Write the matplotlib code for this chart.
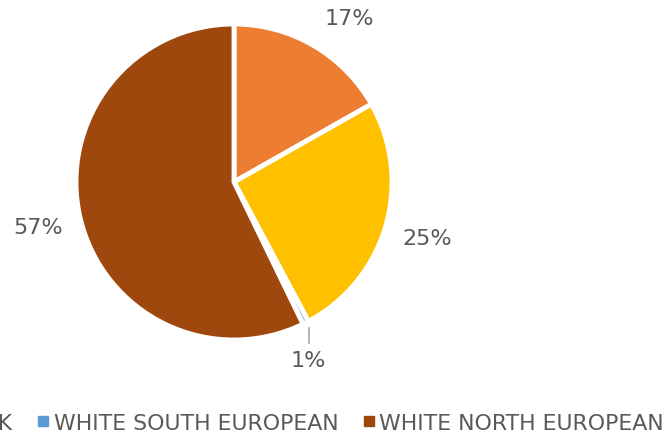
import numpy as np
import matplotlib.pyplot as plt
from matplotlib.lines import Line2D

# slice shares in percent, clockwise from 12 o'clock
groups = ['ASIAN', 'BLACK', 'WHITE SOUTH EUROPEAN', 'WHITE NORTH EUROPEAN']
shares = [16.8, 25.4, 0.6, 57.2]
colors = ['#ED7D31', '#FFC000', '#5B9BD5', '#9E480E']

text_color = '#595959'
plt.rcParams['font.family'] = ['DejaVu Sans']

W, H = 670, 435
fig = plt.figure(figsize=(W / 100, H / 100), dpi=100)

# pie centre (234, 183) px from top-left, radius 158 px
cx, cy, r = 234, 183, 158
ax = fig.add_axes([(cx - r) / W, (H - cy - r) / H, 2 * r / W, 2 * r / H])
wedges, _ = ax.pie(shares, colors=colors, startangle=90, counterclock=False,
                   radius=1.0, wedgeprops=dict(edgecolor='white', linewidth=3.5))
ax.set_xlim(-1, 1)
ax.set_ylim(-1, 1)
ax.set_aspect('equal')
ax.axis('off')

label_r = 1.27
label_ymax = 1.04  # keep labels inside the canvas
for w, v in zip(wedges, shares):
    theta = np.deg2rad((w.theta1 + w.theta2) / 2)
    label = f"{round(v)}%"
    if v < 2:
        # small slice: leader line dropping straight down to the label
        x0, y0 = 1.04 * np.cos(theta), 1.04 * np.sin(theta)
        ax.plot([x0, x0], [y0, y0 - 0.095], color='#A5A5A5', lw=1.2, clip_on=False)
        ax.text(x0, y0 - 0.2, label, ha='center', va='center',
                fontsize=16, color=text_color)
    else:
        lx, ly = label_r * np.cos(theta), label_r * np.sin(theta)
        if ly > label_ymax:
            ly = label_ymax
            lx = np.sign(lx) * np.sqrt(label_r ** 2 - ly ** 2)
        ax.text(lx, ly, label, ha='center', va='center',
                fontsize=16, color=text_color)

handles = [Line2D([], [], marker='s', linestyle='none', markersize=6.5,
                  markerfacecolor=c, markeredgecolor=c) for c in colors]
fig.legend(handles, groups, loc='center right', ncol=4, frameon=False,
           bbox_to_anchor=(664 / W, (H - 424) / H), borderpad=0, borderaxespad=0,
           fontsize=15.8, labelcolor=text_color, handlelength=0.7,
           handletextpad=0.12, columnspacing=1.05)

fig.savefig('out.png', dpi=100)
